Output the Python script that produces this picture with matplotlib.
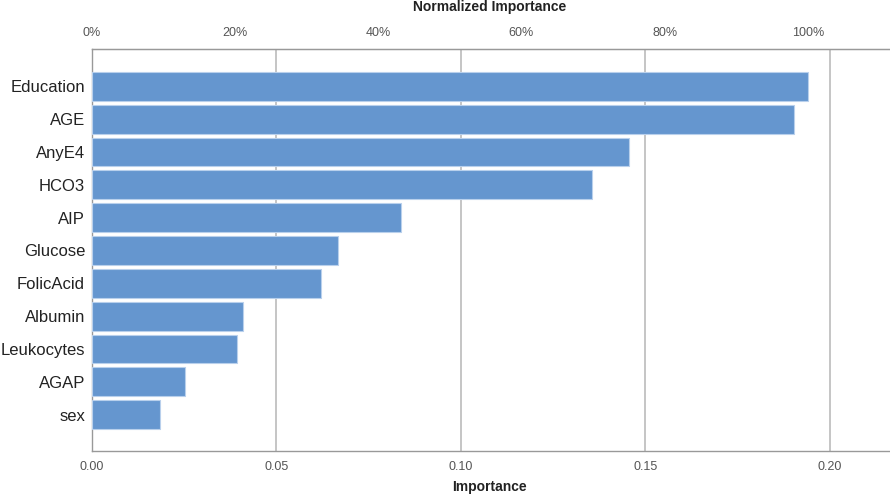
import matplotlib
matplotlib.use("Agg")
import matplotlib.pyplot as plt
from matplotlib.ticker import FuncFormatter

# feature importance values
features = ["Education", "AGE", "AnyE4", "HCO3", "AIP", "Glucose",
            "FolicAcid", "Albumin", "Leukocytes", "AGAP", "sex"]
importance = [0.1940, 0.1902, 0.1455, 0.1355, 0.0837, 0.0667,
              0.0621, 0.0409, 0.0393, 0.0252, 0.0184]
x_ticks = [0.00, 0.05, 0.10, 0.15, 0.20]
pct_ticks = [0, 20, 40, 60, 80, 100]

plt.rcParams['font.family'] = ['Liberation Sans', 'DejaVu Sans']

fig = plt.figure(figsize=(8.9, 4.96), dpi=100)
ax = fig.add_axes([92 / 890, 45 / 496, 798 / 890, 402 / 496])

n = len(features)
ypos = list(range(n - 1, -1, -1))
ax.barh(ypos, importance, height=0.88, color='#6596cf',
        edgecolor='#b9d0ec', linewidth=0.8, zorder=3)

ax.set_xlim(0, 0.2163)
ax.set_ylim(-1.11, n - 1 + 1.14)
ax.set_yticks(ypos)
ax.set_yticklabels(features, fontsize=12, color='#222222')
ax.tick_params(axis='y', length=0, pad=5)

ax.set_xticks(x_ticks)
ax.xaxis.set_major_formatter(FuncFormatter(lambda v, p: f"{v:.2f}"))
ax.tick_params(axis='x', length=0, pad=7, labelsize=9, labelcolor='#555555')

ax.grid(axis='x', color='#b5b5b5', linewidth=1.1, zorder=0)
ax.grid(axis='y', visible=False)

for s in ['left', 'bottom', 'top']:
    ax.spines[s].set_color('#999999')
    ax.spines[s].set_linewidth(1.0)
ax.spines['right'].set_visible(False)

mx = max(importance)
top = ax.secondary_xaxis('top', functions=(lambda v: v / mx * 100,
                                           lambda p: p * mx / 100))
top.set_xticks(pct_ticks)
top.xaxis.set_major_formatter(FuncFormatter(lambda v, p: f"{v:.0f}%"))
top.tick_params(length=0, pad=7, labelsize=9, labelcolor='#555555')
top.spines['top'].set_color('#999999')

fig.text(489.5 / 890, 1 - 11.5 / 496, "Normalized Importance", ha='center',
         va='baseline', fontsize=10, fontweight='bold', color='#222222')
fig.text(489.5 / 890, 1 - 491 / 496, "Importance", ha='center',
         va='baseline', fontsize=10, fontweight='bold', color='#222222')

fig.savefig("out.png", dpi=100)
